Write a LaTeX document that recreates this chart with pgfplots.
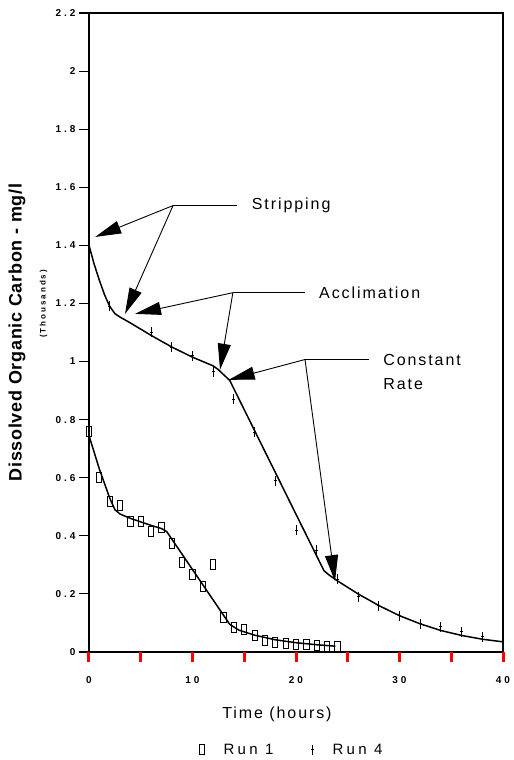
\documentclass[border=0pt]{standalone}
\usepackage{fontspec}
\setmainfont{Liberation Sans}
\newfontfamily\spaced[LetterSpace=12]{Liberation Sans}
\newfontfamily\legf[LetterSpace=22]{Liberation Sans}
\newfontfamily\tickf[LetterSpace=30]{Liberation Sans}
\newfontfamily\ylabf[LetterSpace=4]{Liberation Sans}
\newfontfamily\thouf[LetterSpace=25]{Liberation Sans}
\usepackage{pgfplots}
\pgfplotsset{compat=1.18}
\usetikzlibrary{arrows.meta}
\pgfdeclareplotmark{runone}{%
  \pgfpathrectangle{\pgfqpoint{-2.6pt}{-5pt}}{\pgfqpoint{5.2pt}{10pt}}%
  \pgfusepathqstroke}
\pgfdeclareplotmark{runfour}{%
  \pgfpathmoveto{\pgfqpoint{0pt}{-5pt}}\pgfpathlineto{\pgfqpoint{0pt}{5pt}}%
  \pgfpathmoveto{\pgfqpoint{-1.5pt}{0pt}}\pgfpathlineto{\pgfqpoint{1.5pt}{0pt}}%
  \pgfusepathqstroke}
\begin{document}
\begin{tikzpicture}
\path (-89pt,-108pt) rectangle (422pt,652pt);
\begin{axis}[
  scale only axis, width=414pt, height=639pt,
  xmin=0, xmax=40, ymin=0, ymax=2.2,
  axis line style={line width=1.3pt},
  xtick={0,5,10,15,20,25,30,35,40},
  xticklabels={0,,10,,20,,30,,40},
  ytick={0,0.2,0.4,0.6,0.8,1,1.2,1.4,1.6,1.8,2,2.2},
  yticklabels={0,0.2,0.4,0.6,0.8,1,1.2,1.4,1.6,1.8,2,2.2},
  xtick pos=left, ytick pos=left,
  tick align=outside, major tick length=10pt,
  tick style={line width=1.1pt, black},
  xticklabel style={font=\tickf\bfseries\fontsize{10}{12}\selectfont, yshift=-11pt},
  yticklabel style={font=\tickf\bfseries\fontsize{10}{12}\selectfont},
  clip mode=individual,
  xlabel={Time (hours)},
  xlabel style={at={(rel axis cs:0.454,-0.097)}, anchor=center, font=\spaced\fontsize{16}{19}\selectfont},
  ylabel={Dissolved Organic Carbon - mg/l},
  ylabel style={at={(rel axis cs:-0.174,0.5)}, anchor=center, font=\ylabf\bfseries\fontsize{18}{20}\selectfont},
  legend columns=2,
  legend style={at={(rel axis cs:0.489,-0.153)}, anchor=center, draw=none,
    font=\legf\fontsize{15}{17}\selectfont,
    nodes={inner xsep=1pt},
    /tikz/every odd column/.append style={column sep=18pt},
    /tikz/every even column/.append style={column sep=36pt}},
]
\addplot[only marks, mark=runone, mark options={line width=0.9pt}] coordinates {
(0,0.76) (1,0.60) (2,0.52) (3,0.505) (4,0.45) (5,0.45) (6,0.415) (7,0.43)
(8,0.373) (9,0.31) (10,0.268) (11,0.226) (12,0.30) (13,0.12) (14,0.084)
(15,0.077) (16,0.056) (17,0.04) (18,0.033) (19,0.03) (20,0.025) (21,0.025)
(22,0.022) (23,0.02) (24,0.018)};
\addlegendentry{Run 1}
\addplot[only marks, mark=runfour, mark options={line width=1pt}] coordinates {
(0,1.40) (2,1.19) (6,1.10) (8,1.05) (10,1.02) (12,0.965) (14,0.87) (16,0.757)
(18,0.59) (20,0.42) (22,0.35) (24,0.25) (26,0.19) (28,0.16) (30,0.125)
(32,0.098) (34,0.087) (36,0.07) (38,0.052)};
\addlegendentry{Run 4}
\addplot[line width=1.5pt, forget plot] coordinates {
(0,0.745) (1,0.63) (2,0.53) (2.5,0.49) (3,0.475) (4,0.46) (5,0.448) (6,0.436)
(7,0.425) (7.5,0.415) (13.6,0.095) (14.5,0.075) (16,0.058) (18,0.042)
(20,0.032) (22,0.025) (23.8,0.02)};
\addplot[line width=1.5pt, forget plot] coordinates {
(0,1.40) (0.5,1.335) (1,1.28) (1.5,1.23) (2,1.19) (2.5,1.165) (3,1.153)
(4,1.133) (6,1.09) (8,1.05) (10,1.015) (11,1.0) (12,0.985) (12.5,0.972)
(13,0.955) (13.6,0.935) (22.7,0.28) (23.2,0.265) (24,0.245) (26,0.2)
(28,0.16) (30,0.125) (32,0.097) (34,0.074) (36,0.057) (38,0.044) (40,0.035)};
\tikzset{ann/.style={line width=0.9pt}, annar/.style={line width=0.9pt,-{Triangle[length=26pt,width=13pt]}}}
\draw[ann] (axis cs:8.12,1.537) -- (axis cs:14.3,1.537);
\draw[annar] (axis cs:8.12,1.537) -- (axis cs:0.6,1.429);
\draw[annar] (axis cs:8.12,1.537) -- (axis cs:3.48,1.164);
\node[anchor=west, font=\spaced\fontsize{16}{19}\selectfont] at (axis cs:15.4,1.537) {Stripping};
\draw[ann] (axis cs:13.9,1.237) -- (axis cs:20.9,1.237);
\draw[annar] (axis cs:13.9,1.237) -- (axis cs:4.44,1.164);
\draw[annar] (axis cs:13.9,1.237) -- (axis cs:12.66,0.972);
\node[anchor=west, font=\spaced\fontsize{16}{19}\selectfont] at (axis cs:21.9,1.237) {Acclimation};
\draw[ann] (axis cs:20.87,1.007) -- (axis cs:27.1,1.007);
\draw[annar] (axis cs:20.87,1.007) -- (axis cs:13.5,0.937);
\draw[annar] (axis cs:20.87,1.007) -- (axis cs:23.77,0.244);
\node[anchor=west, font=\spaced\fontsize{16}{19}\selectfont] at (axis cs:28.1,1.007) {Constant};
\node[anchor=west, font=\spaced\fontsize{16}{19}\selectfont] at (axis cs:28.1,0.923) {Rate};
\end{axis}
\foreach \k in {0,...,8} \draw[line width=3pt, red] (\k*51.75pt,0pt) -- (\k*51.75pt,-10pt);
\foreach \k in {0,...,11} \draw[line width=1pt] (0pt,\k*58.0909pt) -- (-3pt,\k*58.0909pt);
\node[rotate=90, font=\thouf\bfseries\fontsize{8}{10}\selectfont] at (-45.5pt,348pt) {(Thousands)};
\end{tikzpicture}
\end{document}
